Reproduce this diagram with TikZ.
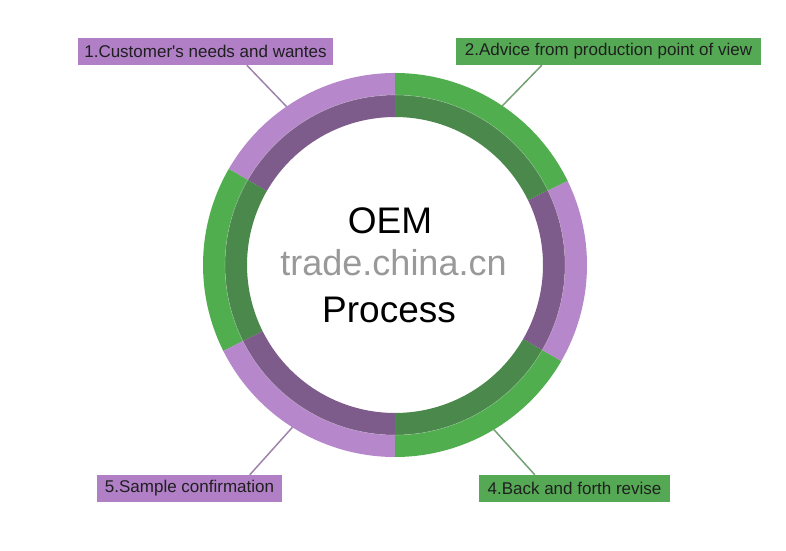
\documentclass[tikz,border=0pt]{standalone}
\usepackage{fontspec}
\setmainfont{Liberation Sans}
\definecolor{lpur}{HTML}{B687CB}
\definecolor{dpur}{HTML}{7D5B8A}
\definecolor{lgrn}{HTML}{50AE4F}
\definecolor{dgrn}{HTML}{4A884B}
\definecolor{plab}{HTML}{B07FC6}
\definecolor{glab}{HTML}{55A955}
\definecolor{pline}{HTML}{9E84AC}
\definecolor{gline}{HTML}{73A173}
\tikzset{
  lab/.style={inner sep=0pt, minimum height=27pt, font=\fontsize{17}{20}\selectfont, text=black!88},
  con/.style={line width=1.5pt},
  big/.style={anchor=base, font=\fontsize{37}{40}\selectfont, text=black}
}
\begin{document}
\begin{tikzpicture}[x=1pt,y=1pt]
\useasboundingbox (0,0) rectangle (786,550);
\fill[white] (0,0) rectangle (786,550);
\begin{scope}[shift={(395,285)}]
\foreach \a/\b/\lc/\dc in {90/150/lpur/dpur, 150/206.6/lgrn/dgrn, 206.6/270/lpur/dpur, 270/330/lgrn/dgrn, 330/386/lpur/dpur, 26/90/lgrn/dgrn}{
  \fill[\lc] (\a:192) arc[start angle=\a, end angle=\b, radius=192] -- (\b:170) arc[start angle=\b, end angle=\a, radius=170] -- cycle;
  \fill[\dc] (\a:170) arc[start angle=\a, end angle=\b, radius=170] -- (\b:148) arc[start angle=\b, end angle=\a, radius=148] -- cycle;
}
\draw[white, opacity=0.25, line width=0.6pt] (0,0) circle[radius=170];
\coordinate (p1) at (124.4:192);
\coordinate (p2) at (56:192);
\coordinate (p5) at (237.7:192);
\coordinate (p4) at (301:192);
\end{scope}

\node[lab, fill=plab, minimum width=255pt] (b1) at (205.5,498.5) {1.Customer\textquotesingle s needs and wantes};
\node[lab, fill=glab, minimum width=305pt] (b2) at (608.5,498.5) {2.Advice from production point of view};
\node[lab, fill=plab, minimum width=185pt] (b5) at (189.5,61.5) {5.Sample confirmation};
\node[lab, fill=glab, minimum width=191pt] (b4) at (574.5,61.5) {4.Back and forth revise};

\draw[con, pline] ([xshift=169pt]b1.south west) -- (p1);
\draw[con, gline] ([xshift=86pt]b2.south west) -- (p2);
\draw[con, pline] ([xshift=153pt]b5.north west) -- (p5);
\draw[con, gline] ([xshift=56pt]b4.north west) -- (p4);

\node[big] (oem) at (390,317) {OEM};
\node[big] (proc) at (389,228) {Process};
\node[anchor=base, font=\fontsize{36}{40}\selectfont, text=black!40] (wm) at (393.5,275) {trade.china.cn};
\end{tikzpicture}
\end{document}
